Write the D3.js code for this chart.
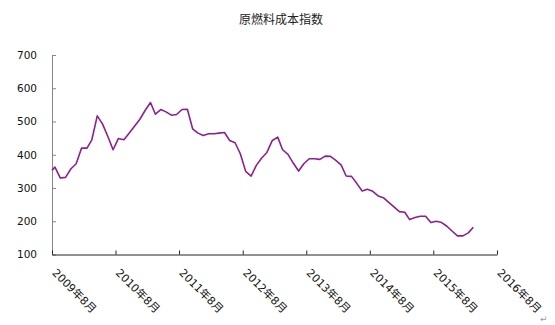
<!DOCTYPE html>
<html>
<head>
<meta charset="utf-8">
<script src="https://cdn.jsdelivr.net/npm/d3@7"></script>
<style>
  html, body { margin: 0; padding: 0; background: #fff; }
  svg { display: block; }
</style>
</head>
<body>
<svg id="chart" width="555" height="325"></svg>
<script>
// Raw-material cost index, monthly readings (first reading at the start of 2009-08).
const title = "原燃料成本指数";
const firstReading = { date: "2009-08-01", value: 353 };
const monthlyStart = "2009-08-18";
const indexValues = [
  363, 330, 332, 358, 373, 420, 420, 445, 517, 493,
  455, 415, 449, 445, 465, 486, 506, 533, 557, 522,
  536, 529, 519, 521, 536, 537, 478, 465, 458, 463,
  463, 465, 467, 443, 436, 403, 350, 336, 368, 390,
  407, 443, 453, 415, 401, 375, 351, 373, 388, 388,
  386, 396, 395, 383, 369, 336, 335, 314, 291, 296,
  290, 276, 271, 257, 243, 229, 227, 205, 211, 215,
  215, 196, 200, 196, 185, 170, 156, 156, 165, 182
];
const xTickDates = [
  "2009-08-01", "2010-08-01", "2011-08-01", "2012-08-01",
  "2013-08-01", "2014-08-01", "2015-08-01", "2016-08-01"
];
const yTicks = [100, 200, 300, 400, 500, 600, 700];

const parse = d3.timeParse("%Y-%m-%d");
const start = parse(monthlyStart);
const series = [{ date: parse(firstReading.date), value: firstReading.value }]
  .concat(indexValues.map((v, i) => ({ date: d3.timeMonth.offset(start, i), value: v })));
const tickDates = xTickDates.map(parse);

const svg = d3.select("#chart");
svg.append("rect").attr("width", 555).attr("height", 325).attr("fill", "#fff");

const x = d3.scaleTime()
  .domain([tickDates[0], tickDates[tickDates.length - 1]])
  .range([52, 497]);
const y = d3.scaleLinear().domain([100, 700]).range([254.5, 55]);

const fontFamily = "'DejaVu Sans', 'Noto Sans CJK SC', sans-serif";

// Title
svg.append("text")
  .attr("x", 281).attr("y", 24)
  .attr("text-anchor", "middle")
  .attr("font-family", "'Noto Sans CJK SC', sans-serif")
  .attr("font-size", 12)
  .attr("fill", "#222")
  .text(title);

// Y axis
const yAxis = svg.append("g")
  .attr("transform", "translate(52,0)")
  .call(d3.axisLeft(y).tickValues(yTicks).tickSizeInner(-4).tickSizeOuter(0).tickPadding(15));
yAxis.select(".domain").attr("stroke", "#868686");
yAxis.selectAll(".tick line").attr("stroke", "#868686");
yAxis.selectAll("text")
  .attr("font-family", fontFamily)
  .attr("font-size", 10.5)
  .attr("fill", "#111");

// X axis
const xAxis = svg.append("g")
  .attr("transform", "translate(0,254.5)")
  .call(d3.axisBottom(x).tickValues(tickDates).tickSizeInner(-4).tickSizeOuter(0)
    .tickFormat(d3.timeFormat("%Y年%-m月")));
xAxis.select(".domain").attr("stroke", "#222");
xAxis.selectAll(".tick line").attr("stroke", "#222");
xAxis.selectAll("text")
  .attr("font-family", fontFamily)
  .attr("font-size", 11)
  .attr("fill", "#111")
  .attr("text-anchor", "start")
  .attr("x", 0).attr("y", 0).attr("dy", 0)
  .attr("transform", "translate(-1,19) rotate(45)");

// Index line
const line = d3.line()
  .x(d => x(d.date))
  .y(d => y(d.value));
svg.append("path")
  .datum(series)
  .attr("d", line)
  .attr("fill", "none")
  .attr("stroke", "#8E1F8E")
  .attr("stroke-width", 1.6)
  .attr("stroke-linejoin", "round");

// Paragraph mark in the lower-right corner
svg.append("text")
  .attr("x", 540).attr("y", 322)
  .attr("font-family", fontFamily)
  .attr("font-size", 9)
  .attr("fill", "#999")
  .text("↵");
</script>
</body>
</html>
